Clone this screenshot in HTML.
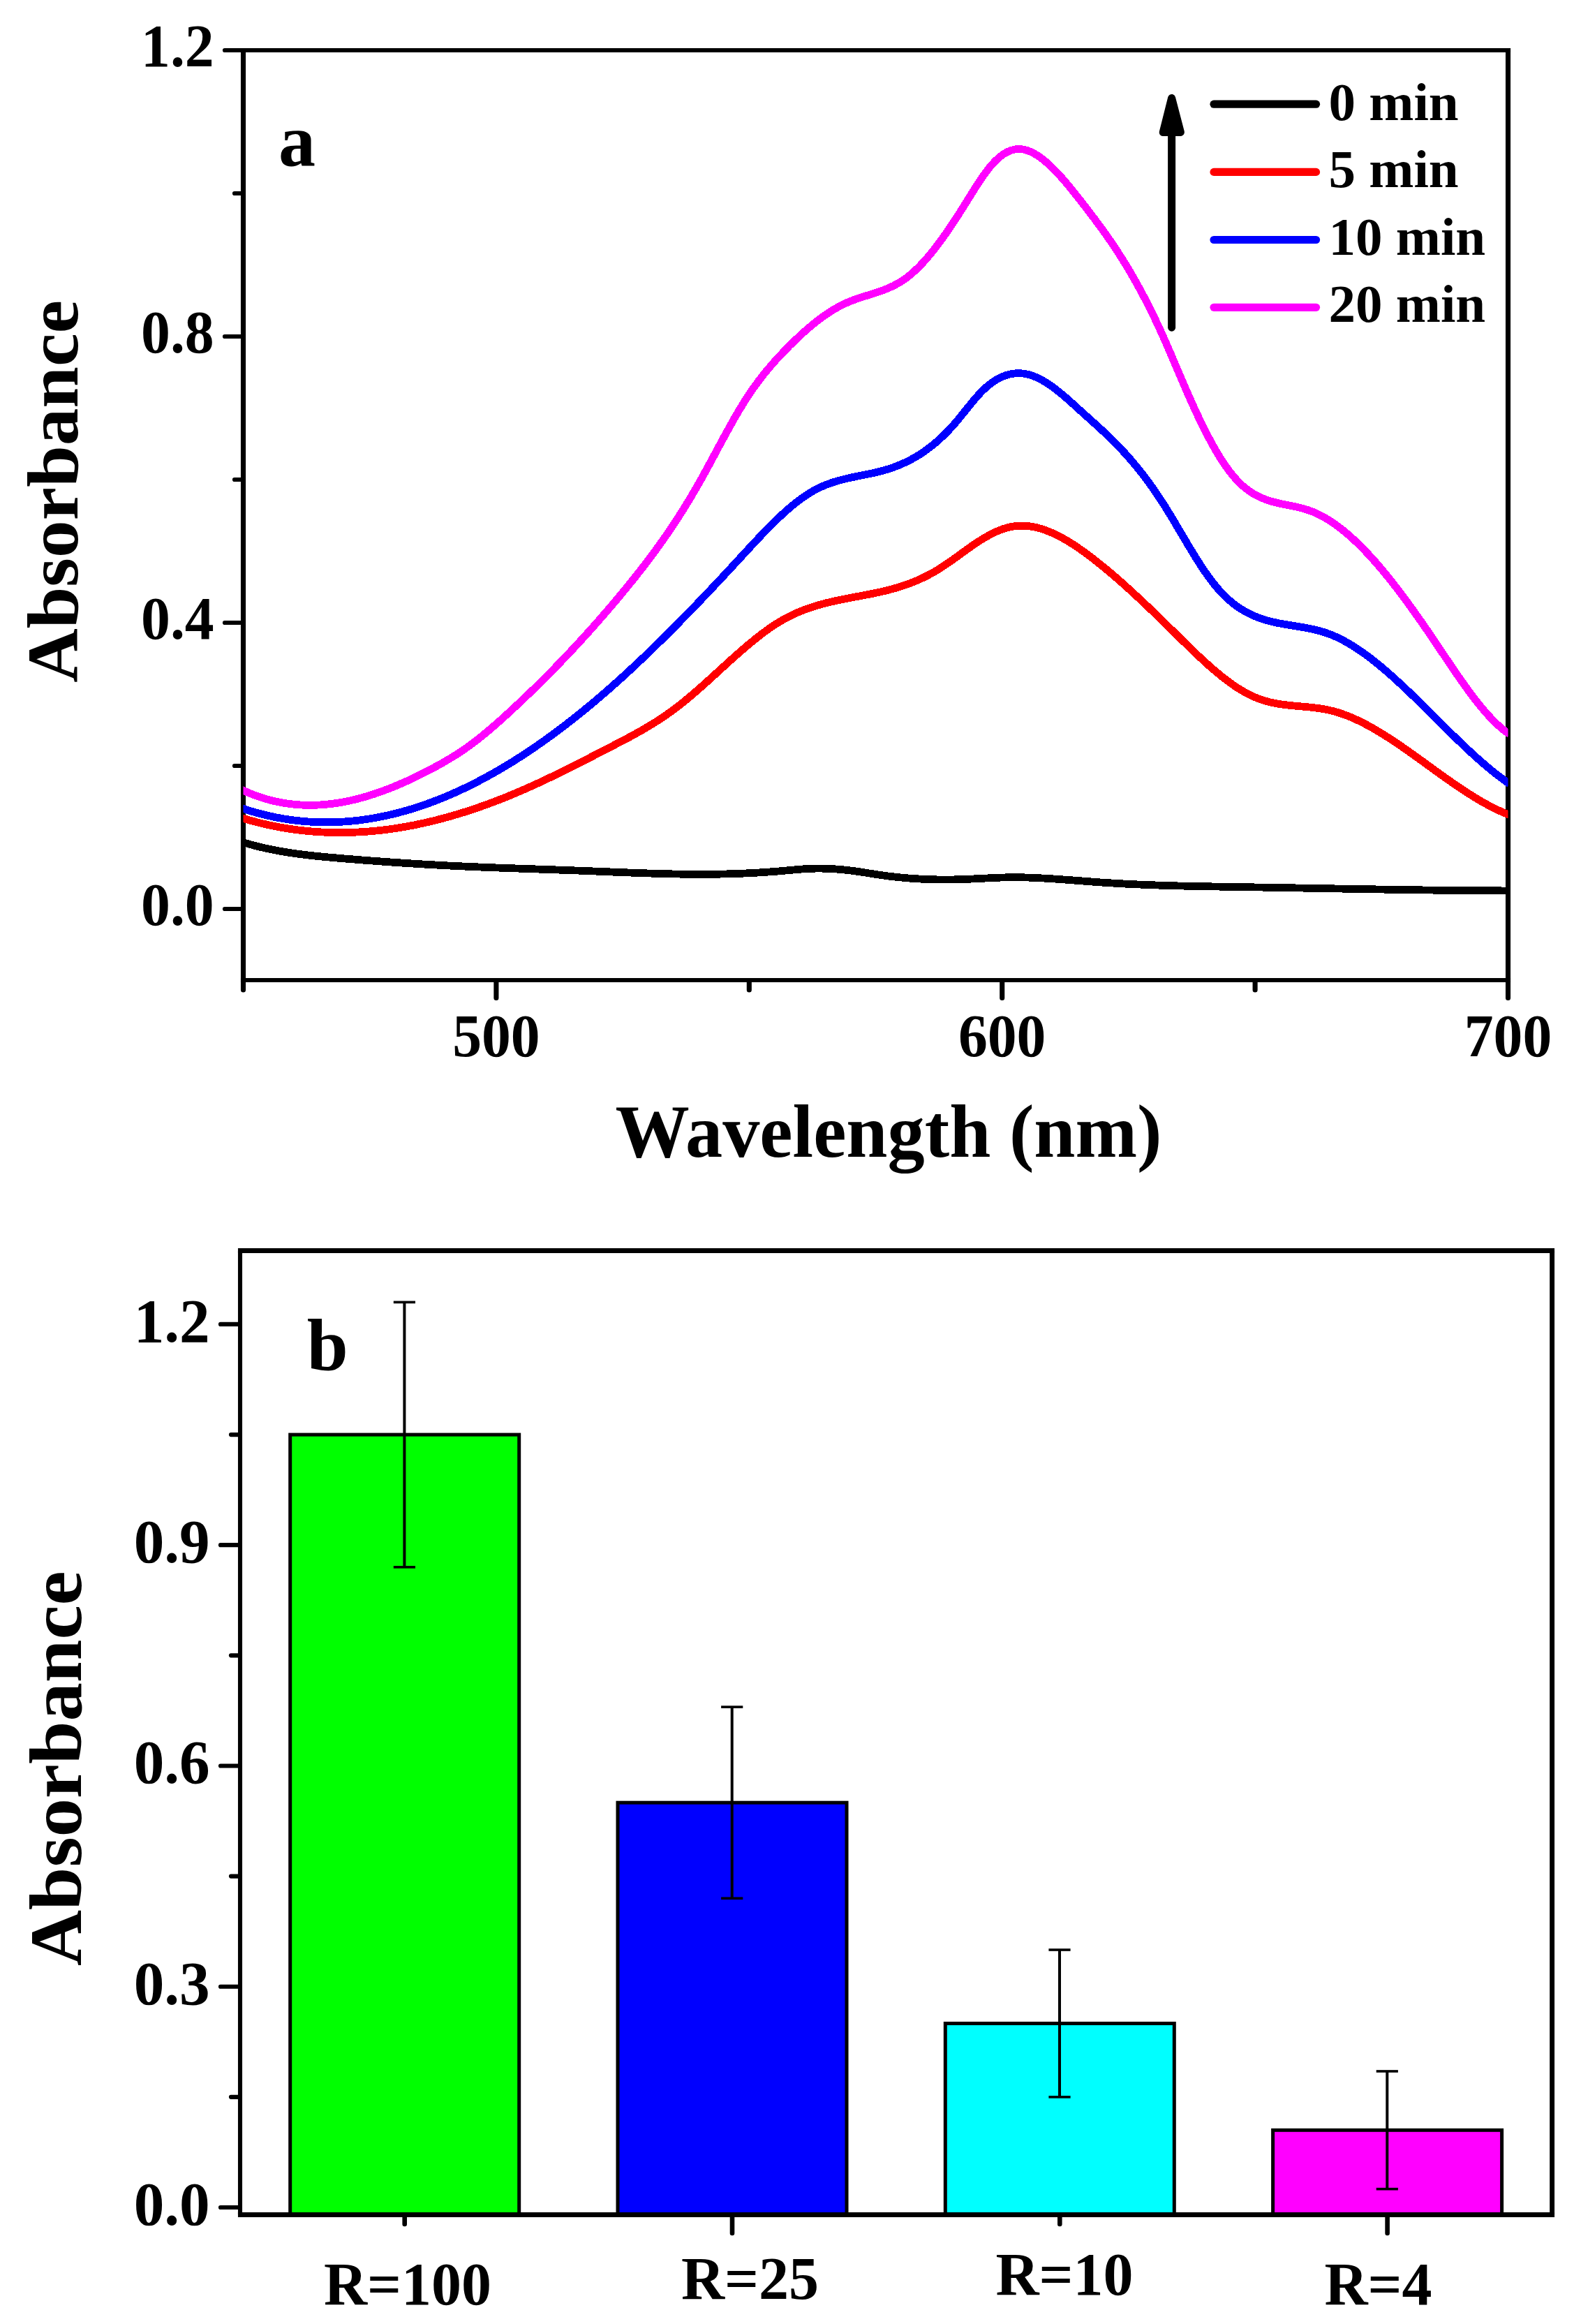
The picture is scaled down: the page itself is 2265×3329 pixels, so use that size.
<!DOCTYPE html>
<html lang="en">
<head>
<meta charset="utf-8">
<title>Absorbance figure</title>
<style>
html,body{margin:0;padding:0;background:#fff;}
body{width:2265px;height:3329px;overflow:hidden;}
svg{display:block;}
svg text{font-family:"Liberation Serif", "Times New Roman", Times, serif;font-weight:bold;fill:#000;}
</style>
</head>
<body>
<svg width="2265" height="3329" viewBox="0 0 2265 3329">
<rect x="0" y="0" width="2265" height="3329" fill="#ffffff"/>
<g id="chart-a">
<line x1="348.5" y1="72" x2="2164.05" y2="72" stroke="#000" stroke-width="6.2" stroke-linecap="butt"/>
<line x1="344.95" y1="1404" x2="2164.05" y2="1404" stroke="#000" stroke-width="6.2" stroke-linecap="butt"/>
<line x1="348.5" y1="68.9" x2="348.5" y2="1404" stroke="#000" stroke-width="7.1" stroke-linecap="butt"/>
<line x1="2160.5" y1="68.9" x2="2160.5" y2="1404" stroke="#000" stroke-width="7.1" stroke-linecap="butt"/>
<clipPath id="clipA"><rect x="348.5" y="72" width="1812" height="1332"/></clipPath>
<g clip-path="url(#clipA)" fill="none" stroke-width="10.8" stroke-linejoin="round" stroke-linecap="butt" shape-rendering="crispEdges">
<path d="M344.5 1205.4 L350.5 1207.26 L356.5 1209.02 L362.5 1210.67 L368.5 1212.23 L374.5 1213.7 L380.5 1215.07 L386.5 1216.36 L392.5 1217.58 L398.5 1218.71 L404.5 1219.78 L410.5 1220.77 L416.5 1221.71 L422.5 1222.58 L428.5 1223.4 L434.5 1224.17 L440.5 1224.9 L446.5 1225.58 L452.5 1226.22 L458.5 1226.83 L464.5 1227.41 L470.5 1227.97 L476.5 1228.5 L482.5 1229.02 L488.5 1229.52 L494.5 1230.02 L500.5 1230.51 L506.5 1230.99 L512.5 1231.47 L518.5 1231.94 L524.5 1232.4 L530.5 1232.86 L536.5 1233.31 L542.5 1233.75 L548.5 1234.18 L554.5 1234.61 L560.5 1235.03 L566.5 1235.45 L572.5 1235.85 L578.5 1236.25 L584.5 1236.64 L590.5 1237.02 L596.5 1237.4 L602.5 1237.76 L608.5 1238.12 L614.5 1238.47 L620.5 1238.81 L626.5 1239.14 L632.5 1239.46 L638.5 1239.78 L644.5 1240.08 L650.5 1240.38 L656.5 1240.66 L662.5 1240.94 L668.5 1241.21 L674.5 1241.47 L680.5 1241.73 L686.5 1241.98 L692.5 1242.22 L698.5 1242.46 L704.5 1242.69 L710.5 1242.92 L716.5 1243.14 L722.5 1243.36 L728.5 1243.58 L734.5 1243.79 L740.5 1244.01 L746.5 1244.21 L752.5 1244.42 L758.5 1244.63 L764.5 1244.83 L770.5 1245.04 L776.5 1245.25 L782.5 1245.45 L788.5 1245.66 L794.5 1245.87 L800.5 1246.08 L806.5 1246.29 L812.5 1246.51 L818.5 1246.73 L824.5 1246.95 L830.5 1247.18 L836.5 1247.41 L842.5 1247.65 L848.5 1247.89 L854.5 1248.13 L860.5 1248.37 L866.5 1248.62 L872.5 1248.86 L878.5 1249.11 L884.5 1249.35 L890.5 1249.59 L896.5 1249.82 L902.5 1250.05 L908.5 1250.28 L914.5 1250.5 L920.5 1250.71 L926.5 1250.91 L932.5 1251.1 L938.5 1251.28 L944.5 1251.46 L950.5 1251.61 L956.5 1251.76 L962.5 1251.89 L968.5 1252.01 L974.5 1252.11 L980.5 1252.2 L986.5 1252.27 L992.5 1252.31 L998.5 1252.34 L1004.5 1252.35 L1010.5 1252.34 L1016.5 1252.31 L1022.5 1252.25 L1028.5 1252.17 L1034.5 1252.06 L1040.5 1251.93 L1046.5 1251.77 L1052.5 1251.59 L1058.5 1251.37 L1064.5 1251.13 L1070.5 1250.86 L1076.5 1250.56 L1082.5 1250.23 L1088.5 1249.88 L1094.5 1249.5 L1100.5 1249.09 L1106.5 1248.65 L1112.5 1248.19 L1118.5 1247.7 L1124.5 1247.18 L1130.5 1246.64 L1136.5 1246.08 L1142.5 1245.53 L1148.5 1245.04 L1154.5 1244.62 L1160.5 1244.31 L1166.5 1244.13 L1172.5 1244.06 L1178.5 1244.11 L1184.5 1244.27 L1190.5 1244.53 L1196.5 1244.89 L1202.5 1245.35 L1208.5 1245.91 L1214.5 1246.55 L1220.5 1247.27 L1226.5 1248.08 L1232.5 1248.95 L1238.5 1249.87 L1244.5 1250.82 L1250.5 1251.77 L1256.5 1252.71 L1262.5 1253.6 L1268.5 1254.44 L1274.5 1255.21 L1280.5 1255.92 L1286.5 1256.58 L1292.5 1257.17 L1298.5 1257.71 L1304.5 1258.19 L1310.5 1258.61 L1316.5 1258.98 L1322.5 1259.29 L1328.5 1259.54 L1334.5 1259.74 L1340.5 1259.89 L1346.5 1259.98 L1352.5 1260.02 L1358.5 1260.01 L1364.5 1259.95 L1370.5 1259.83 L1376.5 1259.67 L1382.5 1259.46 L1388.5 1259.21 L1394.5 1258.94 L1400.5 1258.64 L1406.5 1258.33 L1412.5 1258.03 L1418.5 1257.73 L1424.5 1257.45 L1430.5 1257.21 L1436.5 1257 L1442.5 1256.85 L1448.5 1256.75 L1454.5 1256.73 L1460.5 1256.77 L1466.5 1256.88 L1472.5 1257.05 L1478.5 1257.27 L1484.5 1257.52 L1490.5 1257.82 L1496.5 1258.14 L1502.5 1258.5 L1508.5 1258.88 L1514.5 1259.29 L1520.5 1259.71 L1526.5 1260.15 L1532.5 1260.6 L1538.5 1261.05 L1544.5 1261.52 L1550.5 1261.98 L1556.5 1262.44 L1562.5 1262.9 L1568.5 1263.35 L1574.5 1263.78 L1580.5 1264.2 L1586.5 1264.59 L1592.5 1264.97 L1598.5 1265.33 L1604.5 1265.68 L1610.5 1266 L1616.5 1266.31 L1622.5 1266.6 L1628.5 1266.88 L1634.5 1267.14 L1640.5 1267.39 L1646.5 1267.62 L1652.5 1267.84 L1658.5 1268.05 L1664.5 1268.25 L1670.5 1268.43 L1676.5 1268.61 L1682.5 1268.78 L1688.5 1268.93 L1694.5 1269.08 L1700.5 1269.22 L1706.5 1269.35 L1712.5 1269.48 L1718.5 1269.6 L1724.5 1269.71 L1730.5 1269.82 L1736.5 1269.93 L1742.5 1270.03 L1748.5 1270.13 L1754.5 1270.23 L1760.5 1270.32 L1766.5 1270.42 L1772.5 1270.51 L1778.5 1270.61 L1784.5 1270.7 L1790.5 1270.8 L1796.5 1270.9 L1802.5 1270.99 L1808.5 1271.09 L1814.5 1271.2 L1820.5 1271.3 L1826.5 1271.4 L1832.5 1271.5 L1838.5 1271.61 L1844.5 1271.71 L1850.5 1271.82 L1856.5 1271.92 L1862.5 1272.03 L1868.5 1272.14 L1874.5 1272.24 L1880.5 1272.35 L1886.5 1272.46 L1892.5 1272.56 L1898.5 1272.67 L1904.5 1272.78 L1910.5 1272.88 L1916.5 1272.99 L1922.5 1273.09 L1928.5 1273.2 L1934.5 1273.3 L1940.5 1273.41 L1946.5 1273.51 L1952.5 1273.61 L1958.5 1273.71 L1964.5 1273.81 L1970.5 1273.91 L1976.5 1274 L1982.5 1274.1 L1988.5 1274.19 L1994.5 1274.29 L2000.5 1274.38 L2006.5 1274.47 L2012.5 1274.56 L2018.5 1274.64 L2024.5 1274.73 L2030.5 1274.81 L2036.5 1274.89 L2042.5 1274.97 L2048.5 1275.04 L2054.5 1275.12 L2060.5 1275.19 L2066.5 1275.26 L2072.5 1275.32 L2078.5 1275.39 L2084.5 1275.45 L2090.5 1275.5 L2096.5 1275.56 L2102.5 1275.61 L2108.5 1275.66 L2114.5 1275.71 L2120.5 1275.75 L2126.5 1275.79 L2132.5 1275.83 L2138.5 1275.86 L2144.5 1275.89 L2150.5 1275.91 L2156.5 1275.93 L2162.5 1275.95" stroke="#000000"/>
<path d="M344.5 1171.07 L350.5 1172.89 L356.5 1174.64 L362.5 1176.29 L368.5 1177.87 L374.5 1179.36 L380.5 1180.77 L386.5 1182.1 L392.5 1183.34 L398.5 1184.51 L404.5 1185.59 L410.5 1186.6 L416.5 1187.52 L422.5 1188.37 L428.5 1189.14 L434.5 1189.83 L440.5 1190.44 L446.5 1190.98 L452.5 1191.44 L458.5 1191.83 L464.5 1192.14 L470.5 1192.38 L476.5 1192.54 L482.5 1192.63 L488.5 1192.65 L494.5 1192.6 L500.5 1192.47 L506.5 1192.28 L512.5 1192.01 L518.5 1191.68 L524.5 1191.27 L530.5 1190.8 L536.5 1190.26 L542.5 1189.65 L548.5 1188.97 L554.5 1188.23 L560.5 1187.42 L566.5 1186.55 L572.5 1185.61 L578.5 1184.61 L584.5 1183.54 L590.5 1182.41 L596.5 1181.22 L602.5 1179.97 L608.5 1178.65 L614.5 1177.28 L620.5 1175.84 L626.5 1174.35 L632.5 1172.79 L638.5 1171.18 L644.5 1169.51 L650.5 1167.78 L656.5 1165.99 L662.5 1164.15 L668.5 1162.25 L674.5 1160.3 L680.5 1158.29 L686.5 1156.23 L692.5 1154.12 L698.5 1151.95 L704.5 1149.73 L710.5 1147.46 L716.5 1145.13 L722.5 1142.76 L728.5 1140.33 L734.5 1137.86 L740.5 1135.34 L746.5 1132.76 L752.5 1130.14 L758.5 1127.48 L764.5 1124.77 L770.5 1122.01 L776.5 1119.22 L782.5 1116.39 L788.5 1113.52 L794.5 1110.63 L800.5 1107.7 L806.5 1104.75 L812.5 1101.77 L818.5 1098.77 L824.5 1095.74 L830.5 1092.71 L836.5 1089.65 L842.5 1086.59 L848.5 1083.51 L854.5 1080.42 L860.5 1077.33 L866.5 1074.24 L872.5 1071.15 L878.5 1068.05 L884.5 1064.95 L890.5 1061.83 L896.5 1058.67 L902.5 1055.47 L908.5 1052.21 L914.5 1048.88 L920.5 1045.48 L926.5 1041.98 L932.5 1038.38 L938.5 1034.67 L944.5 1030.82 L950.5 1026.84 L956.5 1022.71 L962.5 1018.42 L968.5 1013.96 L974.5 1009.32 L980.5 1004.51 L986.5 999.56 L992.5 994.48 L998.5 989.29 L1004.5 984.01 L1010.5 978.66 L1016.5 973.24 L1022.5 967.79 L1028.5 962.32 L1034.5 956.84 L1040.5 951.37 L1046.5 945.94 L1052.5 940.56 L1058.5 935.24 L1064.5 930.01 L1070.5 924.88 L1076.5 919.87 L1082.5 915 L1088.5 910.28 L1094.5 905.74 L1100.5 901.39 L1106.5 897.25 L1112.5 893.33 L1118.5 889.66 L1124.5 886.24 L1130.5 883.08 L1136.5 880.16 L1142.5 877.45 L1148.5 874.96 L1154.5 872.66 L1160.5 870.54 L1166.5 868.59 L1172.5 866.78 L1178.5 865.11 L1184.5 863.56 L1190.5 862.11 L1196.5 860.75 L1202.5 859.48 L1208.5 858.26 L1214.5 857.08 L1220.5 855.94 L1226.5 854.82 L1232.5 853.7 L1238.5 852.57 L1244.5 851.41 L1250.5 850.21 L1256.5 848.95 L1262.5 847.62 L1268.5 846.21 L1274.5 844.69 L1280.5 843.06 L1286.5 841.31 L1292.5 839.42 L1298.5 837.39 L1304.5 835.19 L1310.5 832.81 L1316.5 830.25 L1322.5 827.5 L1328.5 824.53 L1334.5 821.34 L1340.5 817.91 L1346.5 814.24 L1352.5 810.34 L1358.5 806.26 L1364.5 802.04 L1370.5 797.74 L1376.5 793.39 L1382.5 789.06 L1388.5 784.78 L1394.5 780.6 L1400.5 776.58 L1406.5 772.75 L1412.5 769.14 L1418.5 765.81 L1424.5 762.79 L1430.5 760.11 L1436.5 757.82 L1442.5 755.95 L1448.5 754.55 L1454.5 753.62 L1460.5 753.16 L1466.5 753.14 L1472.5 753.54 L1478.5 754.35 L1484.5 755.55 L1490.5 757.11 L1496.5 759.03 L1502.5 761.27 L1508.5 763.82 L1514.5 766.66 L1520.5 769.78 L1526.5 773.15 L1532.5 776.76 L1538.5 780.58 L1544.5 784.6 L1550.5 788.8 L1556.5 793.16 L1562.5 797.66 L1568.5 802.29 L1574.5 807.02 L1580.5 811.87 L1586.5 816.83 L1592.5 821.88 L1598.5 827.03 L1604.5 832.26 L1610.5 837.58 L1616.5 842.98 L1622.5 848.46 L1628.5 854 L1634.5 859.6 L1640.5 865.26 L1646.5 870.98 L1652.5 876.74 L1658.5 882.54 L1664.5 888.38 L1670.5 894.25 L1676.5 900.15 L1682.5 906.07 L1688.5 911.99 L1694.5 917.91 L1700.5 923.79 L1706.5 929.62 L1712.5 935.38 L1718.5 941.05 L1724.5 946.62 L1730.5 952.06 L1736.5 957.36 L1742.5 962.49 L1748.5 967.44 L1754.5 972.19 L1760.5 976.72 L1766.5 981 L1772.5 985.04 L1778.5 988.79 L1784.5 992.25 L1790.5 995.39 L1796.5 998.2 L1802.5 1000.66 L1808.5 1002.77 L1814.5 1004.56 L1820.5 1006.08 L1826.5 1007.35 L1832.5 1008.41 L1838.5 1009.3 L1844.5 1010.04 L1850.5 1010.68 L1856.5 1011.24 L1862.5 1011.77 L1868.5 1012.3 L1874.5 1012.85 L1880.5 1013.48 L1886.5 1014.2 L1892.5 1015.07 L1898.5 1016.1 L1904.5 1017.34 L1910.5 1018.81 L1916.5 1020.53 L1922.5 1022.49 L1928.5 1024.66 L1934.5 1027.05 L1940.5 1029.64 L1946.5 1032.42 L1952.5 1035.38 L1958.5 1038.51 L1964.5 1041.79 L1970.5 1045.22 L1976.5 1048.79 L1982.5 1052.48 L1988.5 1056.29 L1994.5 1060.2 L2000.5 1064.2 L2006.5 1068.28 L2012.5 1072.44 L2018.5 1076.65 L2024.5 1080.91 L2030.5 1085.21 L2036.5 1089.54 L2042.5 1093.88 L2048.5 1098.23 L2054.5 1102.57 L2060.5 1106.9 L2066.5 1111.2 L2072.5 1115.46 L2078.5 1119.68 L2084.5 1123.83 L2090.5 1127.91 L2096.5 1131.91 L2102.5 1135.82 L2108.5 1139.63 L2114.5 1143.32 L2120.5 1146.88 L2126.5 1150.31 L2132.5 1153.6 L2138.5 1156.72 L2144.5 1159.68 L2150.5 1162.46 L2156.5 1165.05 L2162.5 1167.44" stroke="#ff0000"/>
<path d="M344.5 1157.05 L350.5 1159.06 L356.5 1160.97 L362.5 1162.77 L368.5 1164.47 L374.5 1166.06 L380.5 1167.55 L386.5 1168.94 L392.5 1170.22 L398.5 1171.4 L404.5 1172.49 L410.5 1173.47 L416.5 1174.35 L422.5 1175.13 L428.5 1175.81 L434.5 1176.39 L440.5 1176.88 L446.5 1177.26 L452.5 1177.55 L458.5 1177.74 L464.5 1177.84 L470.5 1177.84 L476.5 1177.75 L482.5 1177.56 L488.5 1177.28 L494.5 1176.9 L500.5 1176.43 L506.5 1175.87 L512.5 1175.22 L518.5 1174.47 L524.5 1173.63 L530.5 1172.71 L536.5 1171.69 L542.5 1170.58 L548.5 1169.39 L554.5 1168.1 L560.5 1166.73 L566.5 1165.27 L572.5 1163.73 L578.5 1162.1 L584.5 1160.38 L590.5 1158.57 L596.5 1156.69 L602.5 1154.71 L608.5 1152.66 L614.5 1150.52 L620.5 1148.29 L626.5 1145.99 L632.5 1143.6 L638.5 1141.13 L644.5 1138.59 L650.5 1135.96 L656.5 1133.25 L662.5 1130.46 L668.5 1127.59 L674.5 1124.65 L680.5 1121.63 L686.5 1118.53 L692.5 1115.35 L698.5 1112.1 L704.5 1108.77 L710.5 1105.37 L716.5 1101.89 L722.5 1098.34 L728.5 1094.72 L734.5 1091.02 L740.5 1087.25 L746.5 1083.41 L752.5 1079.5 L758.5 1075.51 L764.5 1071.46 L770.5 1067.33 L776.5 1063.14 L782.5 1058.87 L788.5 1054.54 L794.5 1050.14 L800.5 1045.68 L806.5 1041.14 L812.5 1036.54 L818.5 1031.88 L824.5 1027.15 L830.5 1022.35 L836.5 1017.49 L842.5 1012.57 L848.5 1007.58 L854.5 1002.53 L860.5 997.42 L866.5 992.25 L872.5 987.01 L878.5 981.72 L884.5 976.36 L890.5 970.95 L896.5 965.49 L902.5 959.96 L908.5 954.39 L914.5 948.76 L920.5 943.08 L926.5 937.35 L932.5 931.58 L938.5 925.75 L944.5 919.88 L950.5 913.97 L956.5 908.01 L962.5 902.01 L968.5 895.97 L974.5 889.89 L980.5 883.77 L986.5 877.61 L992.5 871.42 L998.5 865.19 L1004.5 858.93 L1010.5 852.64 L1016.5 846.32 L1022.5 839.96 L1028.5 833.58 L1034.5 827.18 L1040.5 820.74 L1046.5 814.28 L1052.5 807.8 L1058.5 801.3 L1064.5 794.78 L1070.5 788.27 L1076.5 781.78 L1082.5 775.34 L1088.5 768.97 L1094.5 762.69 L1100.5 756.52 L1106.5 750.49 L1112.5 744.62 L1118.5 738.92 L1124.5 733.43 L1130.5 728.15 L1136.5 723.13 L1142.5 718.36 L1148.5 713.89 L1154.5 709.72 L1160.5 705.88 L1166.5 702.4 L1172.5 699.28 L1178.5 696.5 L1184.5 694.03 L1190.5 691.84 L1196.5 689.88 L1202.5 688.14 L1208.5 686.57 L1214.5 685.14 L1220.5 683.82 L1226.5 682.58 L1232.5 681.37 L1238.5 680.18 L1244.5 678.96 L1250.5 677.68 L1256.5 676.3 L1262.5 674.8 L1268.5 673.13 L1274.5 671.28 L1280.5 669.21 L1286.5 666.93 L1292.5 664.41 L1298.5 661.64 L1304.5 658.6 L1310.5 655.29 L1316.5 651.68 L1322.5 647.76 L1328.5 643.52 L1334.5 638.95 L1340.5 634.02 L1346.5 628.73 L1352.5 623.06 L1358.5 617 L1364.5 610.52 L1370.5 603.63 L1376.5 596.36 L1382.5 588.89 L1388.5 581.41 L1394.5 574.1 L1400.5 567.15 L1406.5 560.73 L1412.5 555.02 L1418.5 550.03 L1424.5 545.76 L1430.5 542.2 L1436.5 539.33 L1442.5 537.15 L1448.5 535.65 L1454.5 534.82 L1460.5 534.64 L1466.5 535.11 L1472.5 536.22 L1478.5 537.96 L1484.5 540.3 L1490.5 543.19 L1496.5 546.59 L1502.5 550.42 L1508.5 554.66 L1514.5 559.22 L1520.5 564.08 L1526.5 569.16 L1532.5 574.42 L1538.5 579.8 L1544.5 585.25 L1550.5 590.71 L1556.5 596.13 L1562.5 601.52 L1568.5 606.92 L1574.5 612.35 L1580.5 617.87 L1586.5 623.52 L1592.5 629.32 L1598.5 635.32 L1604.5 641.53 L1610.5 647.95 L1616.5 654.62 L1622.5 661.53 L1628.5 668.72 L1634.5 676.19 L1640.5 683.96 L1646.5 692.04 L1652.5 700.46 L1658.5 709.23 L1664.5 718.35 L1670.5 727.84 L1676.5 737.62 L1682.5 747.61 L1688.5 757.73 L1694.5 767.88 L1700.5 777.99 L1706.5 787.98 L1712.5 797.76 L1718.5 807.25 L1724.5 816.36 L1730.5 825.02 L1736.5 833.13 L1742.5 840.62 L1748.5 847.45 L1754.5 853.64 L1760.5 859.23 L1766.5 864.26 L1772.5 868.76 L1778.5 872.77 L1784.5 876.33 L1790.5 879.47 L1796.5 882.23 L1802.5 884.64 L1808.5 886.75 L1814.5 888.59 L1820.5 890.19 L1826.5 891.59 L1832.5 892.83 L1838.5 893.94 L1844.5 894.96 L1850.5 895.93 L1856.5 896.88 L1862.5 897.86 L1868.5 898.88 L1874.5 900 L1880.5 901.25 L1886.5 902.67 L1892.5 904.28 L1898.5 906.13 L1904.5 908.26 L1910.5 910.67 L1916.5 913.37 L1922.5 916.34 L1928.5 919.57 L1934.5 923.04 L1940.5 926.75 L1946.5 930.69 L1952.5 934.83 L1958.5 939.18 L1964.5 943.71 L1970.5 948.43 L1976.5 953.3 L1982.5 958.33 L1988.5 963.51 L1994.5 968.81 L2000.5 974.23 L2006.5 979.76 L2012.5 985.38 L2018.5 991.09 L2024.5 996.87 L2030.5 1002.71 L2036.5 1008.6 L2042.5 1014.53 L2048.5 1020.48 L2054.5 1026.45 L2060.5 1032.41 L2066.5 1038.37 L2072.5 1044.31 L2078.5 1050.21 L2084.5 1056.07 L2090.5 1061.88 L2096.5 1067.61 L2102.5 1073.27 L2108.5 1078.84 L2114.5 1084.3 L2120.5 1089.65 L2126.5 1094.87 L2132.5 1099.95 L2138.5 1104.89 L2144.5 1109.66 L2150.5 1114.26 L2156.5 1118.68 L2162.5 1122.9" stroke="#0000ff"/>
<path d="M344.5 1130.39 L350.5 1133.19 L356.5 1135.8 L362.5 1138.21 L368.5 1140.43 L374.5 1142.47 L380.5 1144.32 L386.5 1145.99 L392.5 1147.48 L398.5 1148.8 L404.5 1149.94 L410.5 1150.92 L416.5 1151.72 L422.5 1152.36 L428.5 1152.84 L434.5 1153.16 L440.5 1153.33 L446.5 1153.34 L452.5 1153.21 L458.5 1152.92 L464.5 1152.49 L470.5 1151.93 L476.5 1151.22 L482.5 1150.37 L488.5 1149.4 L494.5 1148.29 L500.5 1147.06 L506.5 1145.7 L512.5 1144.23 L518.5 1142.63 L524.5 1140.92 L530.5 1139.09 L536.5 1137.16 L542.5 1135.12 L548.5 1132.97 L554.5 1130.73 L560.5 1128.38 L566.5 1125.94 L572.5 1123.41 L578.5 1120.79 L584.5 1118.08 L590.5 1115.29 L596.5 1112.42 L602.5 1109.47 L608.5 1106.44 L614.5 1103.34 L620.5 1100.17 L626.5 1096.93 L632.5 1093.6 L638.5 1090.17 L644.5 1086.63 L650.5 1082.95 L656.5 1079.13 L662.5 1075.16 L668.5 1071.01 L674.5 1066.68 L680.5 1062.17 L686.5 1057.5 L692.5 1052.68 L698.5 1047.72 L704.5 1042.63 L710.5 1037.43 L716.5 1032.12 L722.5 1026.73 L728.5 1021.25 L734.5 1015.7 L740.5 1010.1 L746.5 1004.45 L752.5 998.74 L758.5 992.98 L764.5 987.16 L770.5 981.29 L776.5 975.35 L782.5 969.36 L788.5 963.31 L794.5 957.2 L800.5 951.03 L806.5 944.8 L812.5 938.5 L818.5 932.14 L824.5 925.71 L830.5 919.22 L836.5 912.67 L842.5 906.04 L848.5 899.35 L854.5 892.59 L860.5 885.75 L866.5 878.85 L872.5 871.88 L878.5 864.83 L884.5 857.71 L890.5 850.51 L896.5 843.24 L902.5 835.88 L908.5 828.43 L914.5 820.86 L920.5 813.18 L926.5 805.37 L932.5 797.41 L938.5 789.3 L944.5 781.02 L950.5 772.56 L956.5 763.92 L962.5 755.07 L968.5 746 L974.5 736.71 L980.5 727.19 L986.5 717.41 L992.5 707.38 L998.5 697.07 L1004.5 686.48 L1010.5 675.64 L1016.5 664.61 L1022.5 653.47 L1028.5 642.29 L1034.5 631.14 L1040.5 620.1 L1046.5 609.23 L1052.5 598.62 L1058.5 588.33 L1064.5 578.43 L1070.5 569 L1076.5 560.06 L1082.5 551.58 L1088.5 543.52 L1094.5 535.84 L1100.5 528.51 L1106.5 521.5 L1112.5 514.76 L1118.5 508.27 L1124.5 501.99 L1130.5 495.88 L1136.5 489.93 L1142.5 484.17 L1148.5 478.59 L1154.5 473.21 L1160.5 468.05 L1166.5 463.11 L1172.5 458.4 L1178.5 453.94 L1184.5 449.74 L1190.5 445.81 L1196.5 442.16 L1202.5 438.81 L1208.5 435.77 L1214.5 433.04 L1220.5 430.6 L1226.5 428.41 L1232.5 426.38 L1238.5 424.47 L1244.5 422.61 L1250.5 420.74 L1256.5 418.8 L1262.5 416.72 L1268.5 414.45 L1274.5 411.93 L1280.5 409.09 L1286.5 405.87 L1292.5 402.21 L1298.5 398.05 L1304.5 393.33 L1310.5 388.06 L1316.5 382.26 L1322.5 375.97 L1328.5 369.22 L1334.5 362.04 L1340.5 354.45 L1346.5 346.49 L1352.5 338.19 L1358.5 329.58 L1364.5 320.69 L1370.5 311.55 L1376.5 302.19 L1382.5 292.64 L1388.5 282.98 L1394.5 273.37 L1400.5 263.98 L1406.5 254.98 L1412.5 246.54 L1418.5 238.84 L1424.5 232.04 L1430.5 226.28 L1436.5 221.58 L1442.5 217.95 L1448.5 215.39 L1454.5 213.91 L1460.5 213.5 L1466.5 214.14 L1472.5 215.76 L1478.5 218.25 L1484.5 221.56 L1490.5 225.59 L1496.5 230.25 L1502.5 235.48 L1508.5 241.21 L1514.5 247.38 L1520.5 253.94 L1526.5 260.83 L1532.5 267.99 L1538.5 275.38 L1544.5 282.94 L1550.5 290.61 L1556.5 298.36 L1562.5 306.19 L1568.5 314.14 L1574.5 322.22 L1580.5 330.48 L1586.5 338.94 L1592.5 347.62 L1598.5 356.56 L1604.5 365.78 L1610.5 375.31 L1616.5 385.18 L1622.5 395.39 L1628.5 405.96 L1634.5 416.91 L1640.5 428.26 L1646.5 440.01 L1652.5 452.19 L1658.5 464.8 L1664.5 477.87 L1670.5 491.36 L1676.5 505.18 L1682.5 519.19 L1688.5 533.28 L1694.5 547.32 L1700.5 561.19 L1706.5 574.78 L1712.5 587.98 L1718.5 600.73 L1724.5 613 L1730.5 624.74 L1736.5 635.9 L1742.5 646.45 L1748.5 656.33 L1754.5 665.51 L1760.5 673.94 L1766.5 681.57 L1772.5 688.36 L1778.5 694.31 L1784.5 699.48 L1790.5 703.92 L1796.5 707.73 L1802.5 710.96 L1808.5 713.69 L1814.5 715.99 L1820.5 717.93 L1826.5 719.57 L1832.5 721 L1838.5 722.28 L1844.5 723.48 L1850.5 724.68 L1856.5 725.94 L1862.5 727.33 L1868.5 728.93 L1874.5 730.8 L1880.5 733.02 L1886.5 735.61 L1892.5 738.56 L1898.5 741.86 L1904.5 745.5 L1910.5 749.48 L1916.5 753.77 L1922.5 758.37 L1928.5 763.27 L1934.5 768.47 L1940.5 773.94 L1946.5 779.68 L1952.5 785.68 L1958.5 791.93 L1964.5 798.42 L1970.5 805.13 L1976.5 812.07 L1982.5 819.21 L1988.5 826.55 L1994.5 834.08 L2000.5 841.78 L2006.5 849.65 L2012.5 857.68 L2018.5 865.86 L2024.5 874.17 L2030.5 882.61 L2036.5 891.16 L2042.5 899.82 L2048.5 908.58 L2054.5 917.42 L2060.5 926.33 L2066.5 935.27 L2072.5 944.21 L2078.5 953.11 L2084.5 961.93 L2090.5 970.63 L2096.5 979.18 L2102.5 987.52 L2108.5 995.63 L2114.5 1003.47 L2120.5 1011 L2126.5 1018.17 L2132.5 1024.96 L2138.5 1031.32 L2144.5 1037.21 L2150.5 1042.6 L2156.5 1047.45 L2162.5 1051.71" stroke="#ff00ff"/>
</g>
<line x1="322" y1="1302" x2="347.5" y2="1302" stroke="#000" stroke-width="6.2" stroke-linecap="round"/>
<line x1="322" y1="892" x2="347.5" y2="892" stroke="#000" stroke-width="6.2" stroke-linecap="round"/>
<line x1="322" y1="482" x2="347.5" y2="482" stroke="#000" stroke-width="6.2" stroke-linecap="round"/>
<line x1="322" y1="72" x2="347.5" y2="72" stroke="#000" stroke-width="6.2" stroke-linecap="round"/>
<line x1="336" y1="1097" x2="347.5" y2="1097" stroke="#000" stroke-width="6.2" stroke-linecap="round"/>
<line x1="336" y1="687" x2="347.5" y2="687" stroke="#000" stroke-width="6.2" stroke-linecap="round"/>
<line x1="336" y1="277" x2="347.5" y2="277" stroke="#000" stroke-width="6.2" stroke-linecap="round"/>
<line x1="710.9" y1="1405" x2="710.9" y2="1429.5" stroke="#000" stroke-width="7.1" stroke-linecap="round"/>
<line x1="1435.7" y1="1405" x2="1435.7" y2="1429.5" stroke="#000" stroke-width="7.1" stroke-linecap="round"/>
<line x1="2160.5" y1="1405" x2="2160.5" y2="1429.5" stroke="#000" stroke-width="7.1" stroke-linecap="round"/>
<line x1="348.5" y1="1405" x2="348.5" y2="1418" stroke="#000" stroke-width="7.1" stroke-linecap="round"/>
<line x1="1073.3" y1="1405" x2="1073.3" y2="1418" stroke="#000" stroke-width="7.1" stroke-linecap="round"/>
<line x1="1798.1" y1="1405" x2="1798.1" y2="1418" stroke="#000" stroke-width="7.1" stroke-linecap="round"/>
<text transform="translate(306.7 1325.3) scale(0.966 1)" font-size="86.7" text-anchor="end">0.0</text>
<text transform="translate(306.7 915.3) scale(0.966 1)" font-size="86.7" text-anchor="end">0.4</text>
<text transform="translate(306.7 505.3) scale(0.966 1)" font-size="86.7" text-anchor="end">0.8</text>
<text transform="translate(306.7 95.3) scale(0.966 1)" font-size="86.7" text-anchor="end">1.2</text>
<text transform="translate(710.9 1513) scale(0.965 1)" font-size="86.7" text-anchor="middle">500</text>
<text transform="translate(1435.7 1513) scale(0.965 1)" font-size="86.7" text-anchor="middle">600</text>
<text transform="translate(2160.5 1513) scale(0.965 1)" font-size="86.7" text-anchor="middle">700</text>
<text transform="translate(1273 1656.5) scale(0.985 1)" font-size="108" text-anchor="middle">Wavelength (nm)</text>
<text transform="translate(111.3 703.8) rotate(-90) scale(1 0.975)" font-size="107.2" text-anchor="middle">Absorbance</text>
<text x="399" y="237" font-size="106" text-anchor="start">a</text>
<line x1="1739" y1="149.2" x2="1885.5" y2="149.2" stroke="#000000" stroke-width="11.2" stroke-linecap="round"/>
<text x="1903.5" y="172" font-size="77" text-anchor="start">0 min</text>
<line x1="1739" y1="246.4" x2="1885.5" y2="246.4" stroke="#ff0000" stroke-width="11.2" stroke-linecap="round"/>
<text x="1903.5" y="268.4" font-size="77" text-anchor="start">5 min</text>
<line x1="1739" y1="343.5" x2="1885.5" y2="343.5" stroke="#0000ff" stroke-width="11.2" stroke-linecap="round"/>
<text x="1903.5" y="365.1" font-size="77" text-anchor="start">10 min</text>
<line x1="1739" y1="440.3" x2="1885.5" y2="440.3" stroke="#ff00ff" stroke-width="11.2" stroke-linecap="round"/>
<text x="1903.5" y="461.2" font-size="77" text-anchor="start">20 min</text>
<line x1="1678.6" y1="180" x2="1678.6" y2="469.2" stroke="#000" stroke-width="11" stroke-linecap="round"/>
<polygon points="1678.6,140.4 1691.4,189.5 1666.2,189.5" fill="#000" stroke="#000" stroke-width="11" stroke-linejoin="round"/>
</g>
<g id="chart-b">
<rect x="415.7" y="2055.09" width="328" height="1117.41" fill="#00ff00" stroke="#000" stroke-width="5"/>
<rect x="885" y="2582.19" width="328" height="590.31" fill="#0000ff" stroke="#000" stroke-width="5"/>
<rect x="1354.3" y="2898.45" width="328" height="274.05" fill="#00ffff" stroke="#000" stroke-width="5"/>
<rect x="1823.6" y="3051.31" width="328" height="121.19" fill="#ff00ff" stroke="#000" stroke-width="5"/>
<line x1="579.4" y1="1865.33" x2="579.4" y2="2244.85" stroke="#000" stroke-width="4" stroke-linecap="butt"/>
<line x1="563.8" y1="1865.33" x2="595" y2="1865.33" stroke="#000" stroke-width="3.6" stroke-linecap="butt"/>
<line x1="563.8" y1="2244.85" x2="595" y2="2244.85" stroke="#000" stroke-width="3.6" stroke-linecap="butt"/>
<line x1="1048.7" y1="2445.14" x2="1048.7" y2="2719.24" stroke="#000" stroke-width="4" stroke-linecap="butt"/>
<line x1="1033.1" y1="2445.14" x2="1064.3" y2="2445.14" stroke="#000" stroke-width="3.6" stroke-linecap="butt"/>
<line x1="1033.1" y1="2719.24" x2="1064.3" y2="2719.24" stroke="#000" stroke-width="3.6" stroke-linecap="butt"/>
<line x1="1518" y1="2793.03" x2="1518" y2="3003.87" stroke="#000" stroke-width="4" stroke-linecap="butt"/>
<line x1="1502.4" y1="2793.03" x2="1533.6" y2="2793.03" stroke="#000" stroke-width="3.6" stroke-linecap="butt"/>
<line x1="1502.4" y1="3003.87" x2="1533.6" y2="3003.87" stroke="#000" stroke-width="3.6" stroke-linecap="butt"/>
<line x1="1987.3" y1="2966.97" x2="1987.3" y2="3135.64" stroke="#000" stroke-width="4" stroke-linecap="butt"/>
<line x1="1971.7" y1="2966.97" x2="2002.9" y2="2966.97" stroke="#000" stroke-width="3.6" stroke-linecap="butt"/>
<line x1="1971.7" y1="3135.64" x2="2002.9" y2="3135.64" stroke="#000" stroke-width="3.6" stroke-linecap="butt"/>
<line x1="340.95" y1="1791.5" x2="2227.05" y2="1791.5" stroke="#000" stroke-width="6.9" stroke-linecap="butt"/>
<line x1="340.95" y1="3172.5" x2="2227.05" y2="3172.5" stroke="#000" stroke-width="6.9" stroke-linecap="butt"/>
<line x1="344" y1="1791.5" x2="344" y2="3172.5" stroke="#000" stroke-width="6.1" stroke-linecap="butt"/>
<line x1="2223.6" y1="1791.5" x2="2223.6" y2="3172.5" stroke="#000" stroke-width="6.9" stroke-linecap="butt"/>
<line x1="316" y1="3162" x2="343" y2="3162" stroke="#000" stroke-width="6.2" stroke-linecap="round"/>
<line x1="316" y1="2845.74" x2="343" y2="2845.74" stroke="#000" stroke-width="6.2" stroke-linecap="round"/>
<line x1="316" y1="2529.48" x2="343" y2="2529.48" stroke="#000" stroke-width="6.2" stroke-linecap="round"/>
<line x1="316" y1="2213.22" x2="343" y2="2213.22" stroke="#000" stroke-width="6.2" stroke-linecap="round"/>
<line x1="316" y1="1896.96" x2="343" y2="1896.96" stroke="#000" stroke-width="6.2" stroke-linecap="round"/>
<line x1="331" y1="3003.87" x2="343" y2="3003.87" stroke="#000" stroke-width="6.2" stroke-linecap="round"/>
<line x1="331" y1="2687.61" x2="343" y2="2687.61" stroke="#000" stroke-width="6.2" stroke-linecap="round"/>
<line x1="331" y1="2371.35" x2="343" y2="2371.35" stroke="#000" stroke-width="6.2" stroke-linecap="round"/>
<line x1="331" y1="2055.09" x2="343" y2="2055.09" stroke="#000" stroke-width="6.2" stroke-linecap="round"/>
<line x1="579.7" y1="3173.5" x2="579.7" y2="3186" stroke="#000" stroke-width="6.6" stroke-linecap="round"/>
<line x1="1049" y1="3173.5" x2="1049" y2="3199" stroke="#000" stroke-width="6.6" stroke-linecap="round"/>
<line x1="1518.3" y1="3173.5" x2="1518.3" y2="3186" stroke="#000" stroke-width="6.6" stroke-linecap="round"/>
<line x1="1987.6" y1="3173.5" x2="1987.6" y2="3199" stroke="#000" stroke-width="6.6" stroke-linecap="round"/>
<text transform="translate(300.7 3187) scale(0.975 1)" font-size="89.5" text-anchor="end">0.0</text>
<text transform="translate(300.7 2870.74) scale(0.975 1)" font-size="89.5" text-anchor="end">0.3</text>
<text transform="translate(300.7 2554.48) scale(0.975 1)" font-size="89.5" text-anchor="end">0.6</text>
<text transform="translate(300.7 2238.22) scale(0.975 1)" font-size="89.5" text-anchor="end">0.9</text>
<text transform="translate(300.7 1921.96) scale(0.975 1)" font-size="89.5" text-anchor="end">1.2</text>
<text x="464" y="3301" font-size="86" text-anchor="start">R=100</text>
<text x="976" y="3293.2" font-size="86" text-anchor="start">R=25</text>
<text x="1426.5" y="3287.2" font-size="86" text-anchor="start">R=10</text>
<text x="1897.5" y="3300.7" font-size="86" text-anchor="start">R=4</text>
<text transform="translate(116 2533.2) rotate(-90) scale(1 0.96)" font-size="110.7" text-anchor="middle">Absorbance</text>
<text x="439.8" y="1963" font-size="106" text-anchor="start">b</text>
</g>
</svg>
</body>
</html>
